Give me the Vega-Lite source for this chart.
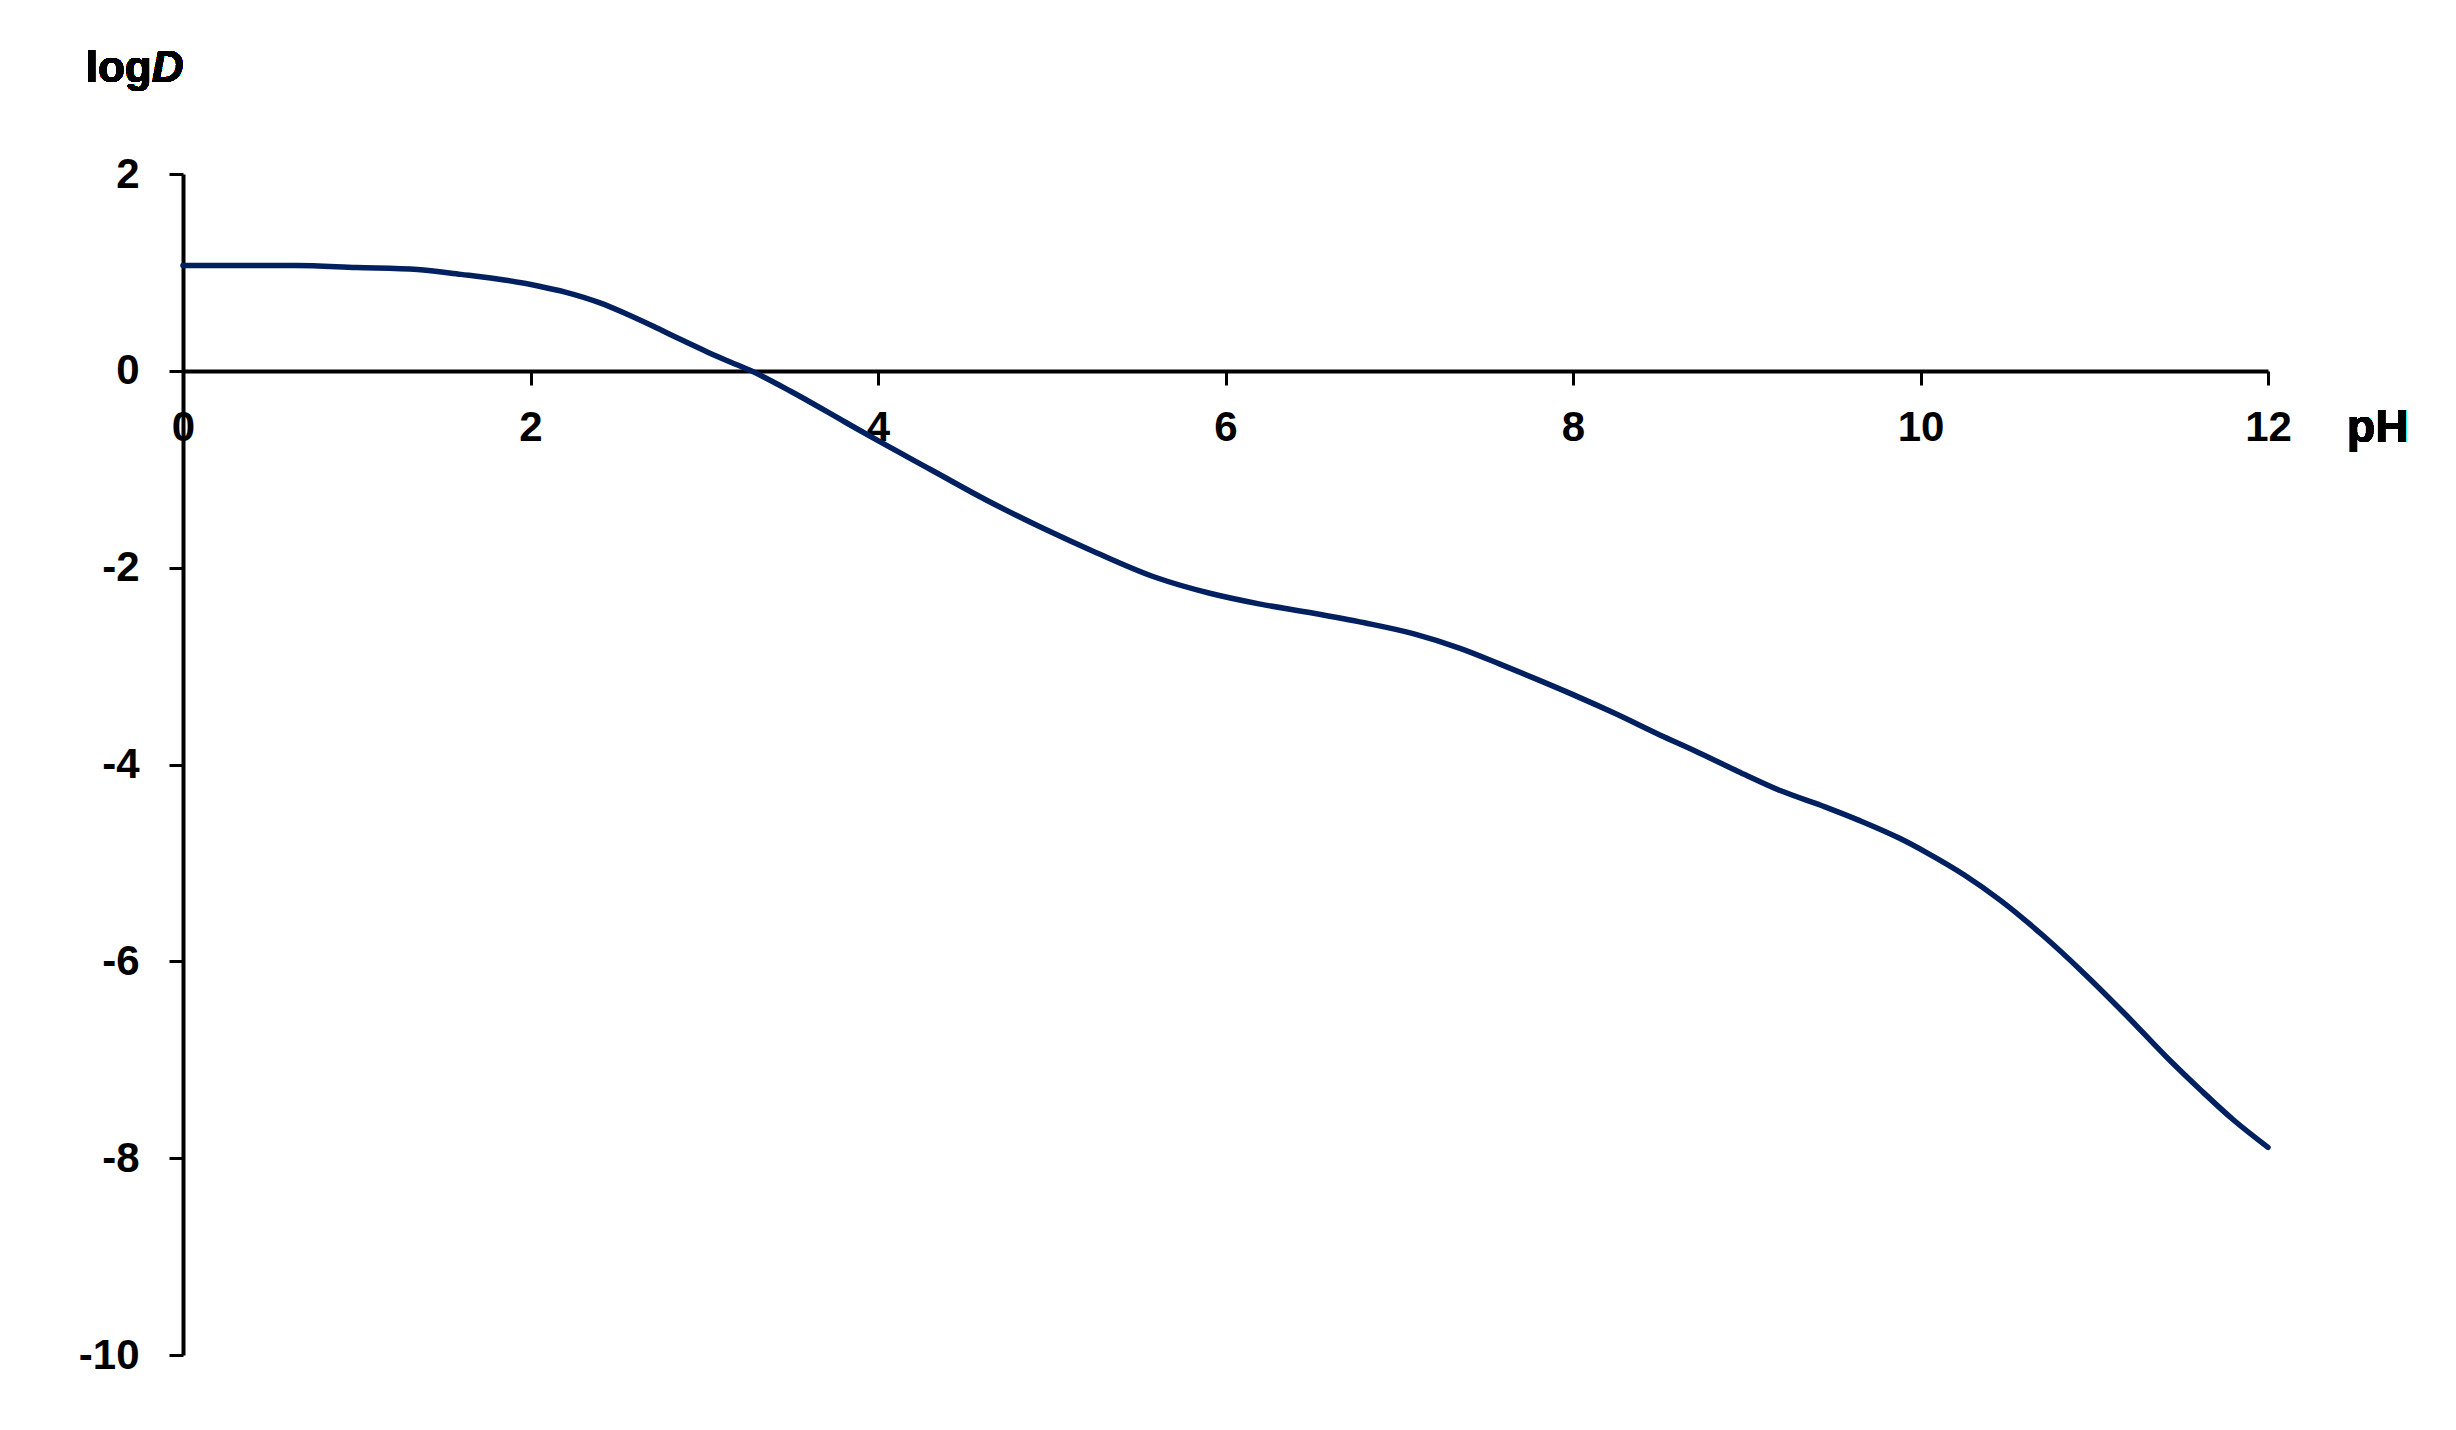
{
  "$schema": "https://vega.github.io/schema/vega-lite/v6.json",
  "autosize": "none",
  "width": 2085,
  "height": 1181,
  "padding": {"left": 183, "top": 174, "right": 188, "bottom": 75},
  "background": "white",
  "config": {
    "view": {"stroke": null},
    "font": "Liberation Sans"
  },
  "data": {
    "values": [
      {"pH": 0.0, "logD": 1.07},
      {"pH": 0.3, "logD": 1.07},
      {"pH": 0.65, "logD": 1.07},
      {"pH": 1.0, "logD": 1.05},
      {"pH": 1.35, "logD": 1.03},
      {"pH": 1.6, "logD": 0.98},
      {"pH": 1.86, "logD": 0.92},
      {"pH": 2.05, "logD": 0.86},
      {"pH": 2.2, "logD": 0.8},
      {"pH": 2.4, "logD": 0.69},
      {"pH": 2.55, "logD": 0.58},
      {"pH": 2.71, "logD": 0.45},
      {"pH": 2.85, "logD": 0.33},
      {"pH": 3.02, "logD": 0.19},
      {"pH": 3.15, "logD": 0.09},
      {"pH": 3.27, "logD": 0.0},
      {"pH": 3.5, "logD": -0.21},
      {"pH": 3.81, "logD": -0.52},
      {"pH": 4.0, "logD": -0.71},
      {"pH": 4.3, "logD": -1.0},
      {"pH": 4.62, "logD": -1.31},
      {"pH": 4.95, "logD": -1.6},
      {"pH": 5.26, "logD": -1.85},
      {"pH": 5.6, "logD": -2.1},
      {"pH": 5.91, "logD": -2.26},
      {"pH": 6.2, "logD": -2.37},
      {"pH": 6.5, "logD": -2.46},
      {"pH": 6.8, "logD": -2.56},
      {"pH": 7.08, "logD": -2.67},
      {"pH": 7.35, "logD": -2.82},
      {"pH": 7.58, "logD": -2.98},
      {"pH": 7.8, "logD": -3.14},
      {"pH": 8.0, "logD": -3.29},
      {"pH": 8.24, "logD": -3.48},
      {"pH": 8.5, "logD": -3.7},
      {"pH": 8.7, "logD": -3.86},
      {"pH": 8.95, "logD": -4.07},
      {"pH": 9.2, "logD": -4.27},
      {"pH": 9.45, "logD": -4.43},
      {"pH": 9.65, "logD": -4.57},
      {"pH": 9.88, "logD": -4.75},
      {"pH": 10.04, "logD": -4.9},
      {"pH": 10.25, "logD": -5.12},
      {"pH": 10.46, "logD": -5.38},
      {"pH": 10.7, "logD": -5.73},
      {"pH": 10.94, "logD": -6.12},
      {"pH": 11.18, "logD": -6.54},
      {"pH": 11.42, "logD": -6.98},
      {"pH": 11.62, "logD": -7.32},
      {"pH": 11.8, "logD": -7.61},
      {"pH": 12.0, "logD": -7.89}
    ]
  },
  "layer": [
    {
      "mark": {"type": "line", "color": "#002060", "strokeWidth": 5.5, "interpolate": "monotone", "strokeCap": "round"},
      "encoding": {
        "x": {
          "field": "pH", "type": "quantitative",
          "scale": {"domain": [0, 12], "nice": false, "zero": false},
          "axis": {
            "orient": "bottom", "offset": -984, "title": null,
            "values": [0, 2, 4, 6, 8, 10, 12],
            "labelExpr": "'' + datum.value",
            "grid": false,
            "domainColor": "black", "domainWidth": 4,
            "tickColor": "black", "tickWidth": 3, "tickSize": 14,
            "labelFont": "Liberation Sans", "labelFontWeight": "bold", "labelFontSize": 42,
            "labelColor": "black", "labelPadding": 22,
            "labelOverlap": false, "labelFlush": false, "labelBound": false
          }
        },
        "y": {
          "field": "logD", "type": "quantitative",
          "scale": {"domain": [-10, 2], "nice": false, "zero": false},
          "axis": {
            "title": null,
            "values": [2, 0, -2, -4, -6, -8, -10],
            "labelExpr": "'' + datum.value",
            "grid": false,
            "domainColor": "black", "domainWidth": 4,
            "tickColor": "black", "tickWidth": 3, "tickSize": 14,
            "labelFont": "Liberation Sans", "labelFontWeight": "bold", "labelFontSize": 42,
            "labelColor": "black", "labelPadding": 30,
            "labelOverlap": false, "labelFlush": false, "labelBound": false
          }
        }
      }
    },
    {
      "mark": {"type": "text", "text": "log", "font": "Liberation Sans", "fontWeight": "bold", "fontSize": 44, "align": "right", "baseline": "alphabetic", "color": "black"},
      "encoding": {
        "x": {"datum": -0.18, "type": "quantitative"},
        "y": {"datum": 2.937, "type": "quantitative"}
      }
    },
    {
      "mark": {"type": "text", "text": "D", "font": "Liberation Sans", "fontWeight": "bold", "fontStyle": "italic", "fontSize": 44, "align": "left", "baseline": "alphabetic", "color": "black"},
      "encoding": {
        "x": {"datum": -0.18, "type": "quantitative"},
        "y": {"datum": 2.937, "type": "quantitative"}
      }
    },
    {
      "mark": {"type": "text", "text": "pH", "font": "Liberation Sans", "fontWeight": "bold", "fontSize": 46, "align": "left", "baseline": "alphabetic", "color": "black"},
      "encoding": {
        "x": {"datum": 12.455, "type": "quantitative"},
        "y": {"datum": -0.72, "type": "quantitative"}
      }
    }
  ]
}
